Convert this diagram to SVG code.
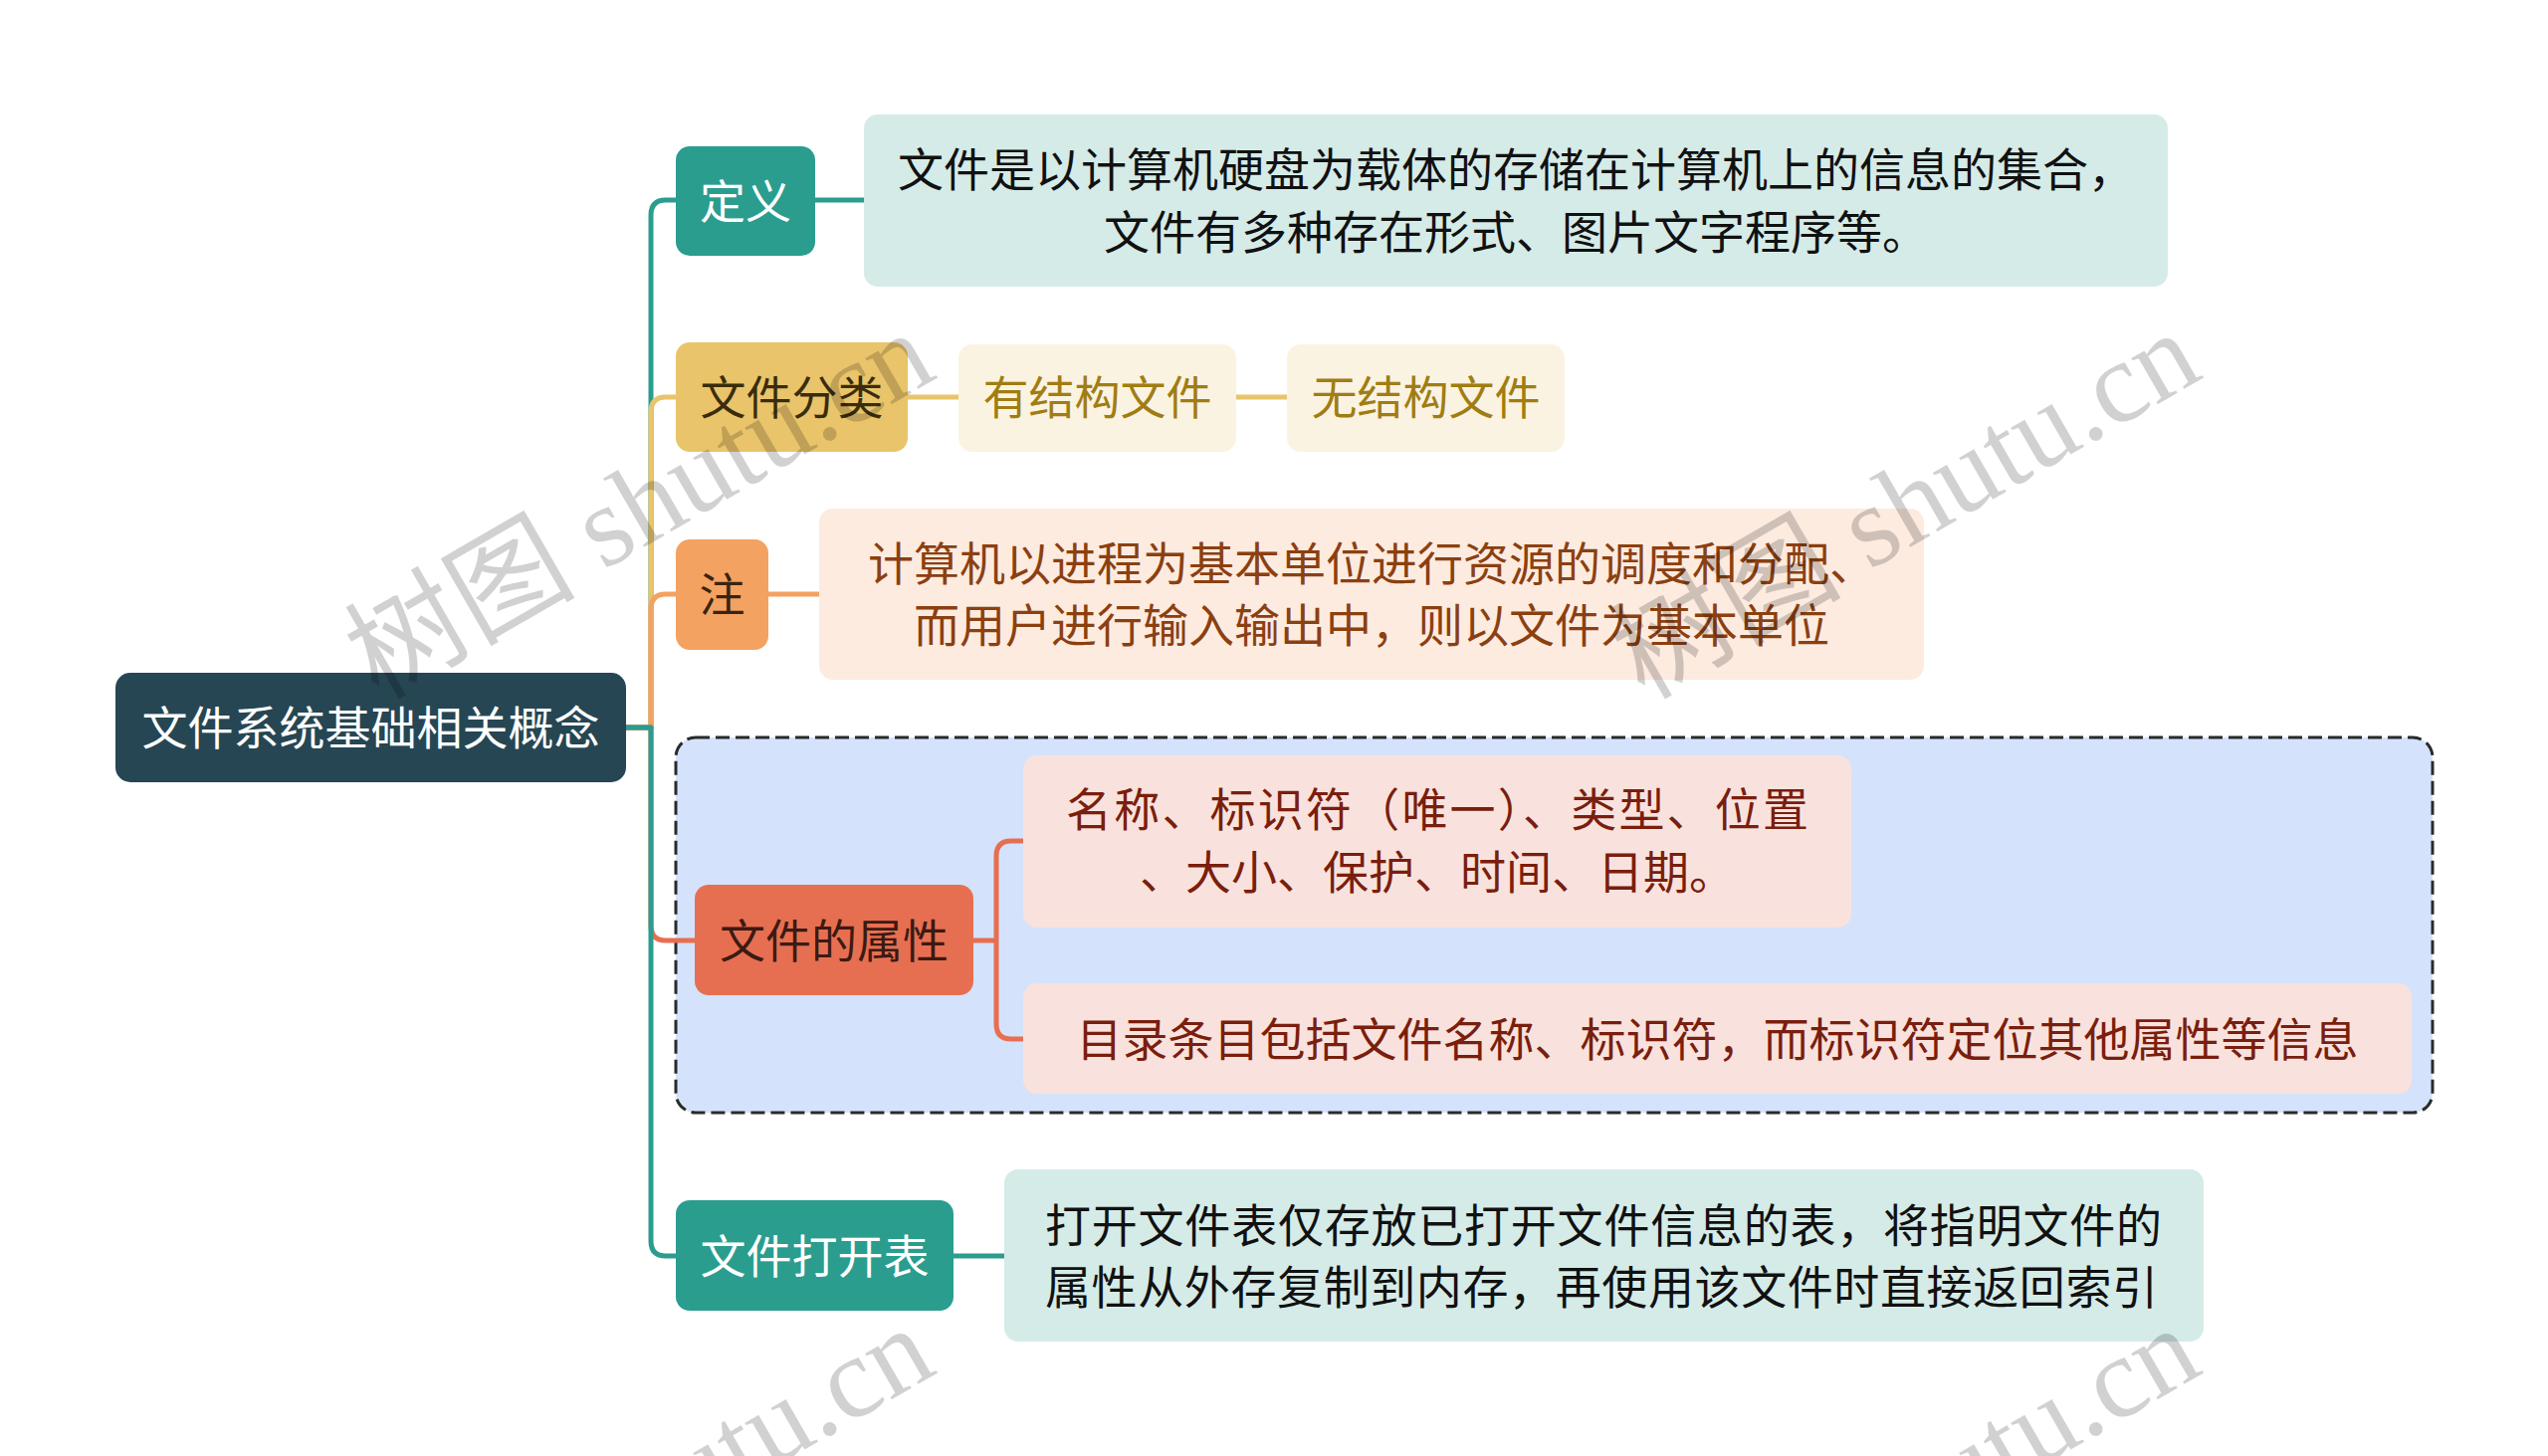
<svg xmlns="http://www.w3.org/2000/svg" width="2560" height="1463" viewBox="0 0 2560 1463">
<style>
text{font-family:"Noto Sans CJK SC","Noto Sans",sans-serif;font-size:46px}
.c{text-anchor:middle;dominant-baseline:central}
.ln{fill:none;stroke-width:5;stroke-linecap:round;stroke-linejoin:round}
.teal{stroke:#2a9d8f}.yel{stroke:#e9c46a}.ora{stroke:#f4a261}.red{stroke:#e76f51}
.wm{font-family:"Liberation Serif","Noto Sans CJK SC",serif;font-size:116px;fill:#000;fill-opacity:0.18}
</style>
<rect width="2560" height="1463" fill="#ffffff"/>
<g id="boundary">
<rect x="679" y="741" width="1765" height="377" rx="20" fill="#d4e3fb" stroke="#2a2a2a" stroke-width="3" stroke-dasharray="14 6"/>
</g>
<g id="connectors">
<path class="ln teal" d="M629,731 H654 V216 Q654,201 669,201 H679"/>
<path class="ln yel" d="M629,731 H654 V414 Q654,399 669,399 H679"/>
<path class="ln ora" d="M629,731 H654 V612 Q654,597 669,597 H679"/>
<path class="ln red" d="M629,731 H654 V930 Q654,945 669,945 H698"/>
<path class="ln teal" d="M629,731 H654 V1247 Q654,1262 669,1262 H681"/>
<path class="ln teal" d="M819,201 H868"/>
<path class="ln yel" d="M912,399 H963 M1242,399 H1293"/>
<path class="ln ora" d="M772,597 H823"/>
<path class="ln red" d="M978,945 H1001 M1028,845 H1016 Q1001,845 1001,860 V1029 Q1001,1044 1016,1044 H1028"/>
<path class="ln teal" d="M958,1262 H1009"/>
</g>
<g id="root">
<rect x="116" y="676" width="513" height="110" rx="15" fill="#264653"/>
<text class="c" x="372.5" y="728" fill="#ffffff">文件系统基础相关概念</text>
</g>
<g id="n-def">
<rect x="679" y="147" width="140" height="110" rx="14" fill="#2a9d8f"/>
<text class="c" x="749" y="199" fill="#ffffff">定义</text>
</g>
<g id="n-def-text">
<rect x="868" y="115" width="1310" height="173" rx="14" fill="#d5ebe8"/>
<text class="c" x="1523" y="167" fill="#111111">文件是以计算机硬盘为载体的存储在计算机上的信息的集合，</text>
<text class="c" x="1523" y="230" fill="#111111">文件有多种存在形式、图片文字程序等。</text>
</g>
<g id="n-cls">
<rect x="679" y="344" width="233" height="110" rx="14" fill="#e9c46a"/>
<text class="c" x="795.5" y="396" fill="#3a2c0c">文件分类</text>
</g>
<g id="n-struct">
<rect x="963" y="346" width="279" height="108" rx="14" fill="#fbf3e1"/>
<text class="c" x="1102.5" y="396" fill="#a07d12">有结构文件</text>
</g>
<g id="n-unstruct">
<rect x="1293" y="346" width="279" height="108" rx="14" fill="#fbf3e1"/>
<text class="c" x="1432.5" y="396" fill="#a07d12">无结构文件</text>
</g>
<g id="n-note">
<rect x="679" y="542" width="93" height="111" rx="14" fill="#f4a261"/>
<text class="c" x="725.5" y="594" fill="#3a2410">注</text>
</g>
<g id="n-note-text">
<rect x="823" y="511" width="1110" height="172" rx="14" fill="#fdebe0"/>
<text class="c" x="1378" y="563" fill="#8b4010">计算机以进程为基本单位进行资源的调度和分配、</text>
<text class="c" x="1378" y="625" fill="#8b4010">而用户进行输入输出中，则以文件为基本单位</text>
</g>
<g id="n-attr">
<rect x="698" y="889" width="280" height="111" rx="14" fill="#e76f51"/>
<text class="c" x="838" y="942" fill="#3c1a12">文件的属性</text>
</g>
<g id="n-attr-1">
<rect x="1028" y="759" width="832" height="173" rx="14" fill="#f9e2dd"/>
<text class="c" x="1444" y="810" textLength="746" lengthAdjust="spacing" fill="#7a1e0e">名称、标识符（唯一）、类型、位置</text>
<text class="c" x="1444" y="873" fill="#7a1e0e">、大小、保护、时间、日期。</text>
</g>
<g id="n-attr-2">
<rect x="1028" y="988" width="1395" height="111" rx="14" fill="#f9e2dd"/>
<text class="c" x="1725.5" y="1041" fill="#7a1e0e">目录条目包括文件名称、标识符，而标识符定位其他属性等信息</text>
</g>
<g id="n-open">
<rect x="679" y="1206" width="279" height="111" rx="14" fill="#2a9d8f"/>
<text class="c" x="818.5" y="1259" fill="#ffffff">文件打开表</text>
</g>
<g id="n-open-text">
<rect x="1009" y="1175" width="1205" height="173" rx="14" fill="#d5ebe8"/>
<text x="1050" y="1228" dominant-baseline="central" textLength="1122" lengthAdjust="spacing" fill="#111111">打开文件表仅存放已打开文件信息的表，将指明文件的</text>
<text x="1050" y="1290" dominant-baseline="central" textLength="1118" lengthAdjust="spacing" fill="#111111">属性从外存复制到内存，再使用该文件时直接返回索引</text>
</g>
<g id="watermark">
<text class="wm" transform="translate(380,704) rotate(-30)">树图 shutu.cn</text>
<text class="wm" transform="translate(1652,704) rotate(-30)">树图 shutu.cn</text>
<text class="wm" transform="translate(380,1704) rotate(-30)">树图 shutu.cn</text>
<text class="wm" transform="translate(1652,1704) rotate(-30)">树图 shutu.cn</text>
</g>
</svg>
